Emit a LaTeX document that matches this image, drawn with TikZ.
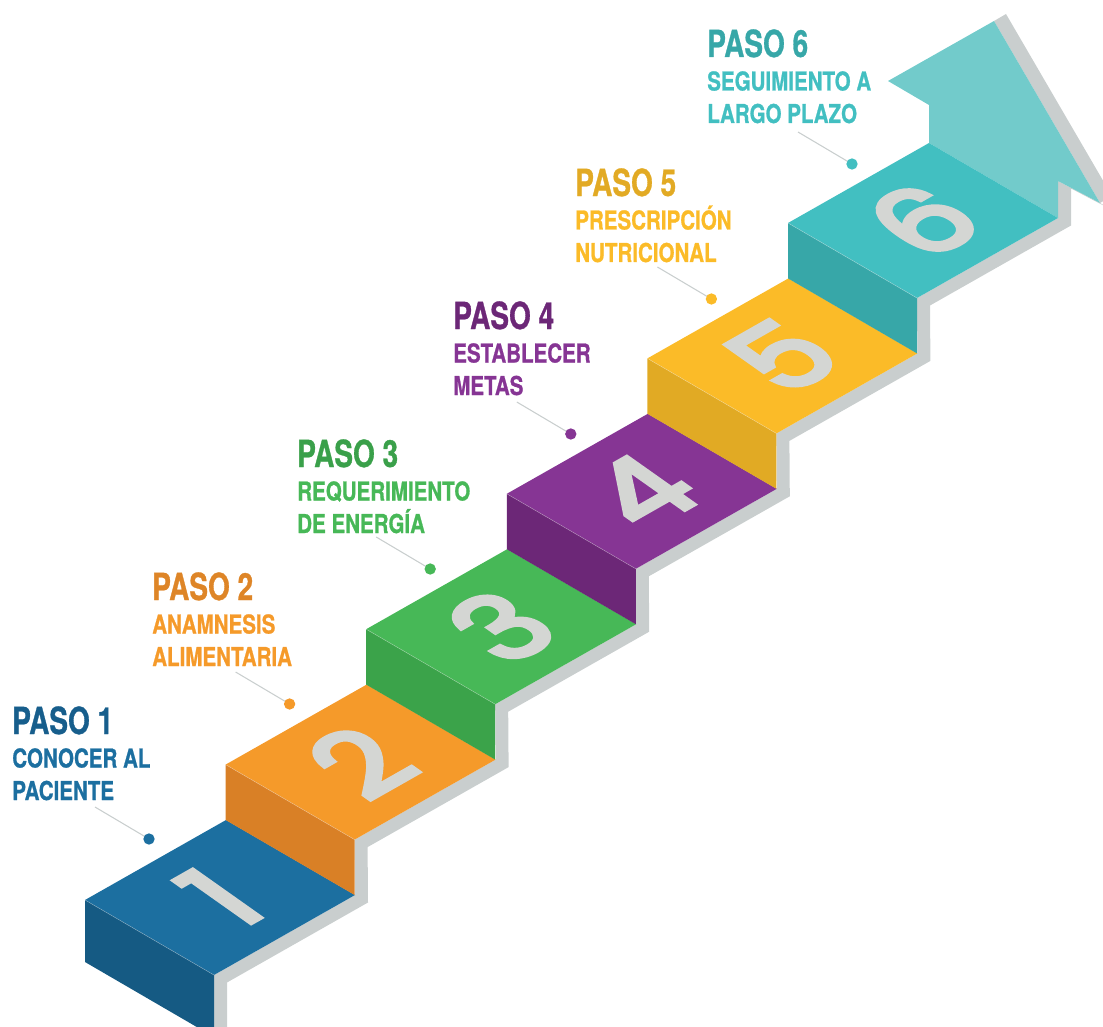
\documentclass[tikz,border=0pt]{standalone}
\usepackage{fontspec}
\usetikzlibrary{calc}
\newfontfamily\pasofont[FakeStretch=0.75,FakeBold=0.8]{TeX Gyre Heros}
\newfontfamily\subfont[FakeStretch=0.79,FakeBold=0.8]{TeX Gyre Heros}
\newfontfamily\digfont[FakeBold=4.5]{Poppins}
\definecolor{c1t}{HTML}{1C6FA0}\definecolor{c1s}{HTML}{155A83}
\definecolor{c2t}{HTML}{F59A2A}\definecolor{c2s}{HTML}{D98026}
\definecolor{c3t}{HTML}{47B857}\definecolor{c3s}{HTML}{3BA34A}
\definecolor{c4t}{HTML}{863594}\definecolor{c4s}{HTML}{6C2777}
\definecolor{c5t}{HTML}{FBBB28}\definecolor{c5s}{HTML}{E1AA24}
\definecolor{c6t}{HTML}{42BFC1}\definecolor{c6s}{HTML}{37A7A8}
\definecolor{arrowc}{HTML}{72CBCB}
\definecolor{rail}{HTML}{C9CECE}
\definecolor{numgray}{HTML}{D4D6D3}
\definecolor{p1}{HTML}{175E8C}
\definecolor{p2}{HTML}{DE8527}
\definecolor{p3}{HTML}{3AA04A}
\definecolor{p4}{HTML}{6C2777}
\definecolor{p5}{HTML}{E2AA24}
\definecolor{p6}{HTML}{37A7A8}
\begin{document}
\begin{tikzpicture}[x=0.75pt,y=-0.75pt,
  digit/.style={inner sep=0pt, text=numgray, font=\digfont\fontsize{86}{86}\selectfont},
  pasotxt/.style={anchor=base west, inner sep=0pt, font=\pasofont\bfseries\fontsize{28}{28}\selectfont},
  subtxt/.style={anchor=base west, inner sep=0pt, font=\subfont\bfseries\fontsize{19.5}{19.5}\selectfont},
  dotn/.style={circle, inner sep=0pt, minimum size=8.5pt},
  conn/.style={draw=rail, line width=0.8pt}]
\useasboundingbox (0,0) rectangle (1103,1027);
\clip (0,0) rectangle (1103,1027);
% step corner coordinates
\foreach \n in {1,...,6}{
  \pgfmathsetmacro\lx{85+(\n-1)*140.6}
  \pgfmathsetmacro\ly{900-(\n-1)*135.4}
  \coordinate (L\n) at (\lx,\ly);
  \coordinate (B\n) at (\lx+141,\ly-80);
  \coordinate (R\n) at (\lx+270,\ly-5);
  \coordinate (F\n) at (\lx+129,\ly+75);
  \coordinate (C\n) at (\lx+135,\ly-2.5);
}
\coordinate (F0) at ($(F1)+(0,62)$);
\coordinate (N) at (1058,181);
\coordinate (W) at (1100,203);
\coordinate (T) at (994,21);
\coordinate (WL) at (888,81);
\coordinate (WI) at (929,105);
% gray rail
\fill[rail] (F0)--(F1)--(R1)--(F2)--(R2)--(F3)--(R3)--(F4)--(R4)--(F5)--(R5)--(F6)--(R6)--(N)--(W)
  --($(W)+(13,7.5)$)--($(N)+(13,7.5)$)--($(R6)+(13,7.5)$)--($(F6)+(13,7.5)$)
  --($(R5)+(13,7.5)$)--($(F5)+(13,7.5)$)--($(R4)+(13,7.5)$)--($(F4)+(13,7.5)$)
  --($(R3)+(13,7.5)$)--($(F3)+(13,7.5)$)--($(R2)+(13,7.5)$)--($(F2)+(13,7.5)$)
  --($(R1)+(13,7.5)$)--($(F1)+(13,7.5)$)--($(F0)+(13,7.5)$)--cycle;
\fill[rail] (T)--($(T)+(12,-7)$)--($(W)+(12,-7)$)--(W)--cycle;
% arrow face
\fill[arrowc] (B6)--(WI)--(WL)--(T)--(W)--(N)--(R6)--cycle;
% steps
\foreach \n/\ct/\cs in {1/c1t/c1s,2/c2t/c2s,3/c3t/c3s,4/c4t/c4s,5/c5t/c5s,6/c6t/c6s}{
  \pgfmathsetmacro\hh{\n==1 ? 62 : 55.4}
  \fill[\ct] (L\n)--(B\n)--(R\n)--(F\n)--cycle;
  \fill[\cs] (L\n)--(F\n)--($(F\n)+(0,\hh)$)--($(L\n)+(0,\hh)$)--cycle;
  \draw[white, opacity=0.35, line width=0.4pt] (L\n)--(F\n);
  \begin{scope}[shift={(C\n)}, cm={0.870,0.494,-0.816,0.577,(0,0)}]
    \node[digit, transform shape] (num\n) at (0,0) {\n};
  \end{scope}
}
% labels
\foreach \n/\px/\py/\ca/\cb/\la/\lb in {
  1/12/734/p1/c1t/CONOCER AL/PACIENTE,
  2/152/600/p2/c2t/ANAMNESIS/ALIMENTARIA,
  3/297/467/p3/c3t/REQUERIMIENTO/DE ENERGÍA,
  4/453/329/p4/c4t/ESTABLECER/METAS,
  5/575/196/p5/c5t/PRESCRIPCIÓN/NUTRICIONAL,
  6/707/57/p6/c6t/SEGUIMIENTO A/LARGO PLAZO}{
  \node[pasotxt, text=\ca] (paso\n) at (\px,\py) {PASO \n};
  \node[subtxt, text=\cb] (suba\n) at (\px,\py+33.5) {\la};
  \node[subtxt, text=\cb] (subb\n) at (\px,\py+66) {\lb};
  \pgfmathsetmacro\dx{149+(\n-1)*140.6}
  \pgfmathsetmacro\dy{839-(\n-1)*135}
  \coordinate (e\n) at (\dx-54,\dy-32);
  \coordinate (dc\n) at (\dx,\dy);
  \draw[conn] (e\n) -- (dc\n);
  \node[dotn, fill=\cb] (dot\n) at (dc\n) {};
}
\end{tikzpicture}
\end{document}
